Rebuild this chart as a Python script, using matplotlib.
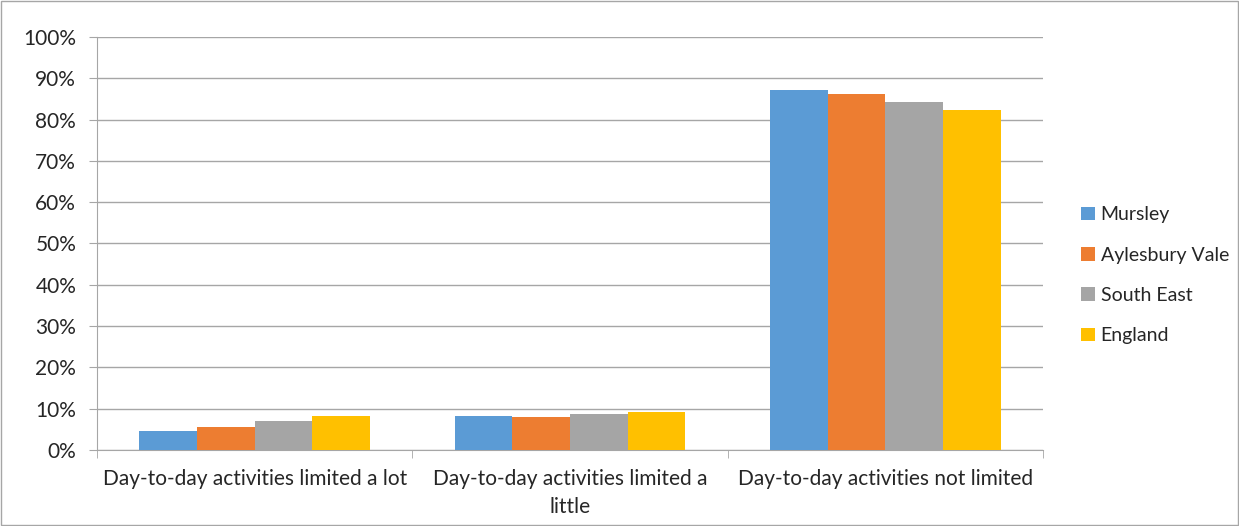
import matplotlib.pyplot as plt
import numpy as np
from matplotlib.patches import Rectangle

categories = [
    "Day-to-day activities limited a lot",
    "Day-to-day activities limited a\nlittle",
    "Day-to-day activities not limited",
]
series = ["Mursley", "Aylesbury Vale", "South East", "England"]
mursley = [4.6, 8.3, 87.2]
aylesbury_vale = [5.6, 8.0, 86.3]
south_east = [6.9, 8.8, 84.2]
england = [8.2, 9.3, 82.2]
colors = ["#5b9bd5", "#ed7d31", "#a5a5a5", "#ffc000"]

plt.rcParams["font.family"] = ["Lato", "DejaVu Sans"]

fig = plt.figure(figsize=(12.39, 5.26), dpi=100)
ax = fig.add_axes([0.0783, 0.1445, 0.7635, 0.7852])

x = np.arange(len(categories))
width = 0.183
values = [mursley, aylesbury_vale, south_east, england]
for i, (name, vals) in enumerate(zip(series, values)):
    ax.bar(x + (i - 1.5) * width, vals, width, color=colors[i], label=name, zorder=3)

ax.set_xlim(-0.5, 2.5)
ax.set_ylim(0, 100)
ax.set_yticks(range(0, 101, 10))
ax.set_yticklabels([f"{v}%" for v in range(0, 101, 10)], fontsize=15, color="#262626")
ax.yaxis.grid(True, color="#a6a6a6", linewidth=1, zorder=0)
ax.set_xticks(x)
ax.set_xticklabels(categories, fontsize=15, color="#262626", linespacing=1.5)
ax.tick_params(axis="x", length=0, pad=14)
ax.set_xticks([-0.5, 0.5, 1.5, 2.5], minor=True)
ax.tick_params(axis="x", which="minor", length=6, color="#a6a6a6")
ax.tick_params(axis="y", length=6, color="#a6a6a6", pad=9)

for side in ["top", "right"]:
    ax.spines[side].set_visible(False)
ax.spines["left"].set_color("#a6a6a6")
ax.spines["bottom"].set_color("#a6a6a6")

ax.legend(loc="center left", bbox_to_anchor=(1.022, 0.423), frameon=False,
          fontsize=14, handlelength=0.7, handleheight=0.7, labelspacing=1.2,
          handletextpad=0.3, labelcolor="#262626")

fig.patches.append(Rectangle((0.001, 0.002), 0.998, 0.996, transform=fig.transFigure,
                             fill=False, edgecolor="#a6a6a6", linewidth=1))

fig.savefig("out.png", dpi=100)
